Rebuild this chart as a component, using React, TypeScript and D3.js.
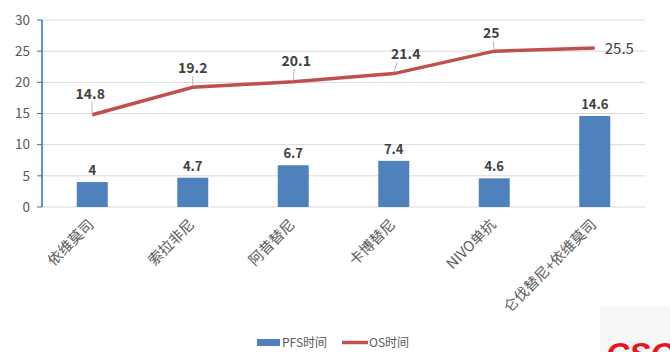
import React from "react";
import * as d3 from "d3";

const categories = ["依维莫司", "索拉非尼", "阿昔替尼", "卡博替尼", "NIVO单抗", "仑伐替尼+依维莫司"];
const pfs = [4, 4.7, 6.7, 7.4, 4.6, 14.6];
const os = [14.8, 19.2, 20.1, 21.4, 25, 25.5];
const yTicks = [0, 5, 10, 15, 20, 25, 30];
// label offsets (dx, dy) relative to OS point
const osLabelOffsets: [number, number][] = [[-2, -21], [0, -19], [3, -21], [12, -20], [-3, -18], [10, 1]];

const W = 670, H = 352;
const m = { left: 42, right: 25, top: 20, bottom: 145 };
const font = "'Noto Sans CJK SC', 'Noto Sans', sans-serif";

export default function App() {
  const x = d3.scaleBand<string>().domain(categories).range([m.left, W - m.right]).paddingInner(0).paddingOuter(0);
  const y = d3.scaleLinear().domain([0, 30]).range([H - m.bottom, m.top]);
  const bw = 31;
  const cx = (c: string) => (x(c) as number) + x.bandwidth() / 2;
  const line = d3.line<number>().x((_, i) => cx(categories[i])).y((d) => y(d));
  return (
    <svg width={W} height={H} style={{ position: "absolute", left: 0, top: 0, background: "#fff" }} fontFamily={font}>
      {yTicks.map((t) => (
        <g key={t}>
          {t > 0 && <line x1={m.left} x2={W - m.right} y1={y(t)} y2={y(t)} stroke="#d9d9d9" strokeWidth={1} />}
          <line x1={m.left - 5} x2={m.left} y1={y(t)} y2={y(t)} stroke="#2e75b6" strokeWidth={1} />
          <text x={m.left - 12} y={y(t)} dy="0.35em" textAnchor="end" fontSize={13.5} fill="#595959">{t}</text>
        </g>
      ))}
      <line x1={m.left} x2={W - m.right} y1={y(0)} y2={y(0)} stroke="#d9d9d9" strokeWidth={1} />
      <line x1={m.left} x2={m.left} y1={y(0)} y2={y(30)} stroke="#2e75b6" strokeWidth={1.5} />
      {categories.map((c, i) => (
        <g key={c}>
          <rect x={cx(c) - bw / 2} y={y(pfs[i])} width={bw} height={y(0) - y(pfs[i])} fill="#4f81bd" />
          <text x={cx(c)} y={y(pfs[i]) - 7} textAnchor="middle" fontSize={13} fontWeight="bold" fill="#404040">{pfs[i]}</text>
          <text transform={`translate(${cx(c) - 1},${y(0) + 15}) rotate(-45)`} textAnchor="end" dy="0.35em" fontSize={14.5} fill="#595959">{c}</text>
        </g>
      ))}
      <path d={line(os) as string} fill="none" stroke="#c0504d" strokeWidth={3.5} />
      {os.map((v, i) => {
        const px = cx(categories[i]), py = y(v);
        const [dx, dy] = osLabelOffsets[i];
        const last = i === os.length - 1;
        return (
          <g key={i}>
            {!last && <line x1={px + dx * 0.3} y1={py + dy + 8} x2={px} y2={py - 1} stroke="#a6a6a6" strokeWidth={0.8} />}
            <text x={px + dx} y={py + dy} dy="0.35em" textAnchor={last ? "start" : "middle"} fontSize={last ? 15 : 14} fontWeight={last ? "normal" : "bold"} fill="#404040">{v}</text>
          </g>
        );
      })}
      <rect x={257} y={339} width={23} height={7} fill="#4f81bd" />
      <text x={282} y={342.5} dy="0.35em" fontSize={12} fill="#595959">PFS时间</text>
      <line x1={342} x2={368} y1={342.5} y2={342.5} stroke="#c0504d" strokeWidth={3.5} />
      <text x={369} y={342.5} dy="0.35em" fontSize={12} fill="#595959">OS时间</text>
      <rect x={600} y={307} width={70} height={45} fill="#f7f7f7" />
      <text x={606} y={365} fontSize={32} fontWeight="bold" fontStyle="italic" fill="#e8141b" fontFamily="'Liberation Sans', sans-serif">CSCO</text>
    </svg>
  );
}
